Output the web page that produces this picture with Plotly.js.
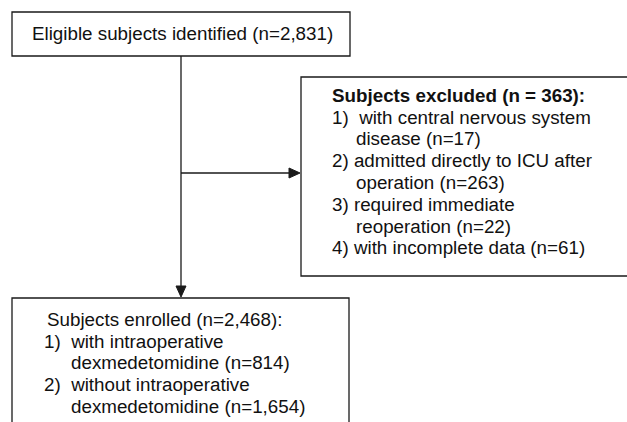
<!DOCTYPE html>
<html>
<head>
<meta charset="utf-8">
<script src="https://cdn.plot.ly/plotly-3.0.1.min.js"></script>
<style>html,body{margin:0;padding:0;background:#fff;}#chart{width:627px;height:422px;}</style>
</head>
<body>
<div id="chart"></div>
<script>
// Flowchart content
const topBoxText = ["Eligible subjects identified (n=2,831)"];
const excludedTitle = ["Subjects excluded (n = 363):"];
const excludedLines = ["1)  with central nervous system", "disease (n=17)", "2) admitted directly to ICU after", "operation (n=263)", "3) required immediate", "reoperation (n=22)", "4) with incomplete data (n=61)"];
const excludedIndent = [0, 1, 0, 1, 0, 1, 0];
const enrolledTitle = ["Subjects enrolled (n=2,468):"];
const enrolledLines = ["1)  with intraoperative", "dexmedetomidine (n=814)", "2)  without intraoperative", "dexmedetomidine (n=1,654)"];
const enrolledIndent = [0, 1, 0, 1];

const FONT = "Liberation Sans, Arial, sans-serif";
const FS = 18.8;
const LINE = '#1a1a1a';
const shapes = [];
const annotations = [];

function rect(x0, y0, x1, y1) {
  shapes.push({type: 'rect', xref: 'x', yref: 'y', x0, y0, x1, y1, line: {color: LINE, width: 1.3}, fillcolor: 'rgba(0,0,0,0)'});
}
function seg(x0, y0, x1, y1) {
  shapes.push({type: 'line', xref: 'x', yref: 'y', x0, y0, x1, y1, line: {color: LINE, width: 1.3}});
}
function tri(path) {
  shapes.push({type: 'path', xref: 'x', yref: 'y', path, fillcolor: LINE, line: {color: LINE, width: 1}});
}
function txt(x, y, t, bold) {
  annotations.push({xref: 'x', yref: 'y', x, y, text: bold ? '<b>' + t + '</b>' : t, showarrow: false,
    xanchor: 'left', yanchor: 'middle', borderpad: 0,
    font: {family: FONT, size: FS, color: '#111'}});
}

// boxes
rect(12, 12, 350, 56);
rect(301, 77, 660, 276);
rect(12, 298, 349, 450);

// connectors
seg(181, 56, 181, 286);
tri('M 176,286 L 186,286 L 181,297 Z');
seg(181, 173, 290, 173);
tri('M 289,168 L 289,178 L 300,173 Z');

// texts
txt(31, 33, topBoxText[0], false);
txt(331, 95, excludedTitle[0], true);
excludedLines.forEach((t, i) => txt(excludedIndent[i] ? 355 : 331, 117 + i * 21.8, t, false));
txt(46, 319, enrolledTitle[0], false);
enrolledLines.forEach((t, i) => txt(enrolledIndent[i] ? 70 : 43, 341 + i * 21.8, t, false));

const layout = {
  width: 627, height: 422,
  margin: {l: 0, r: 0, t: 0, b: 0},
  paper_bgcolor: '#fff', plot_bgcolor: '#fff',
  xaxis: {range: [0, 627], visible: false, fixedrange: true},
  yaxis: {range: [422, 0], visible: false, fixedrange: true},
  showlegend: false,
  shapes, annotations
};
Plotly.newPlot('chart', [], layout, {displayModeBar: false, staticPlot: true});
</script>
</body>
</html>
